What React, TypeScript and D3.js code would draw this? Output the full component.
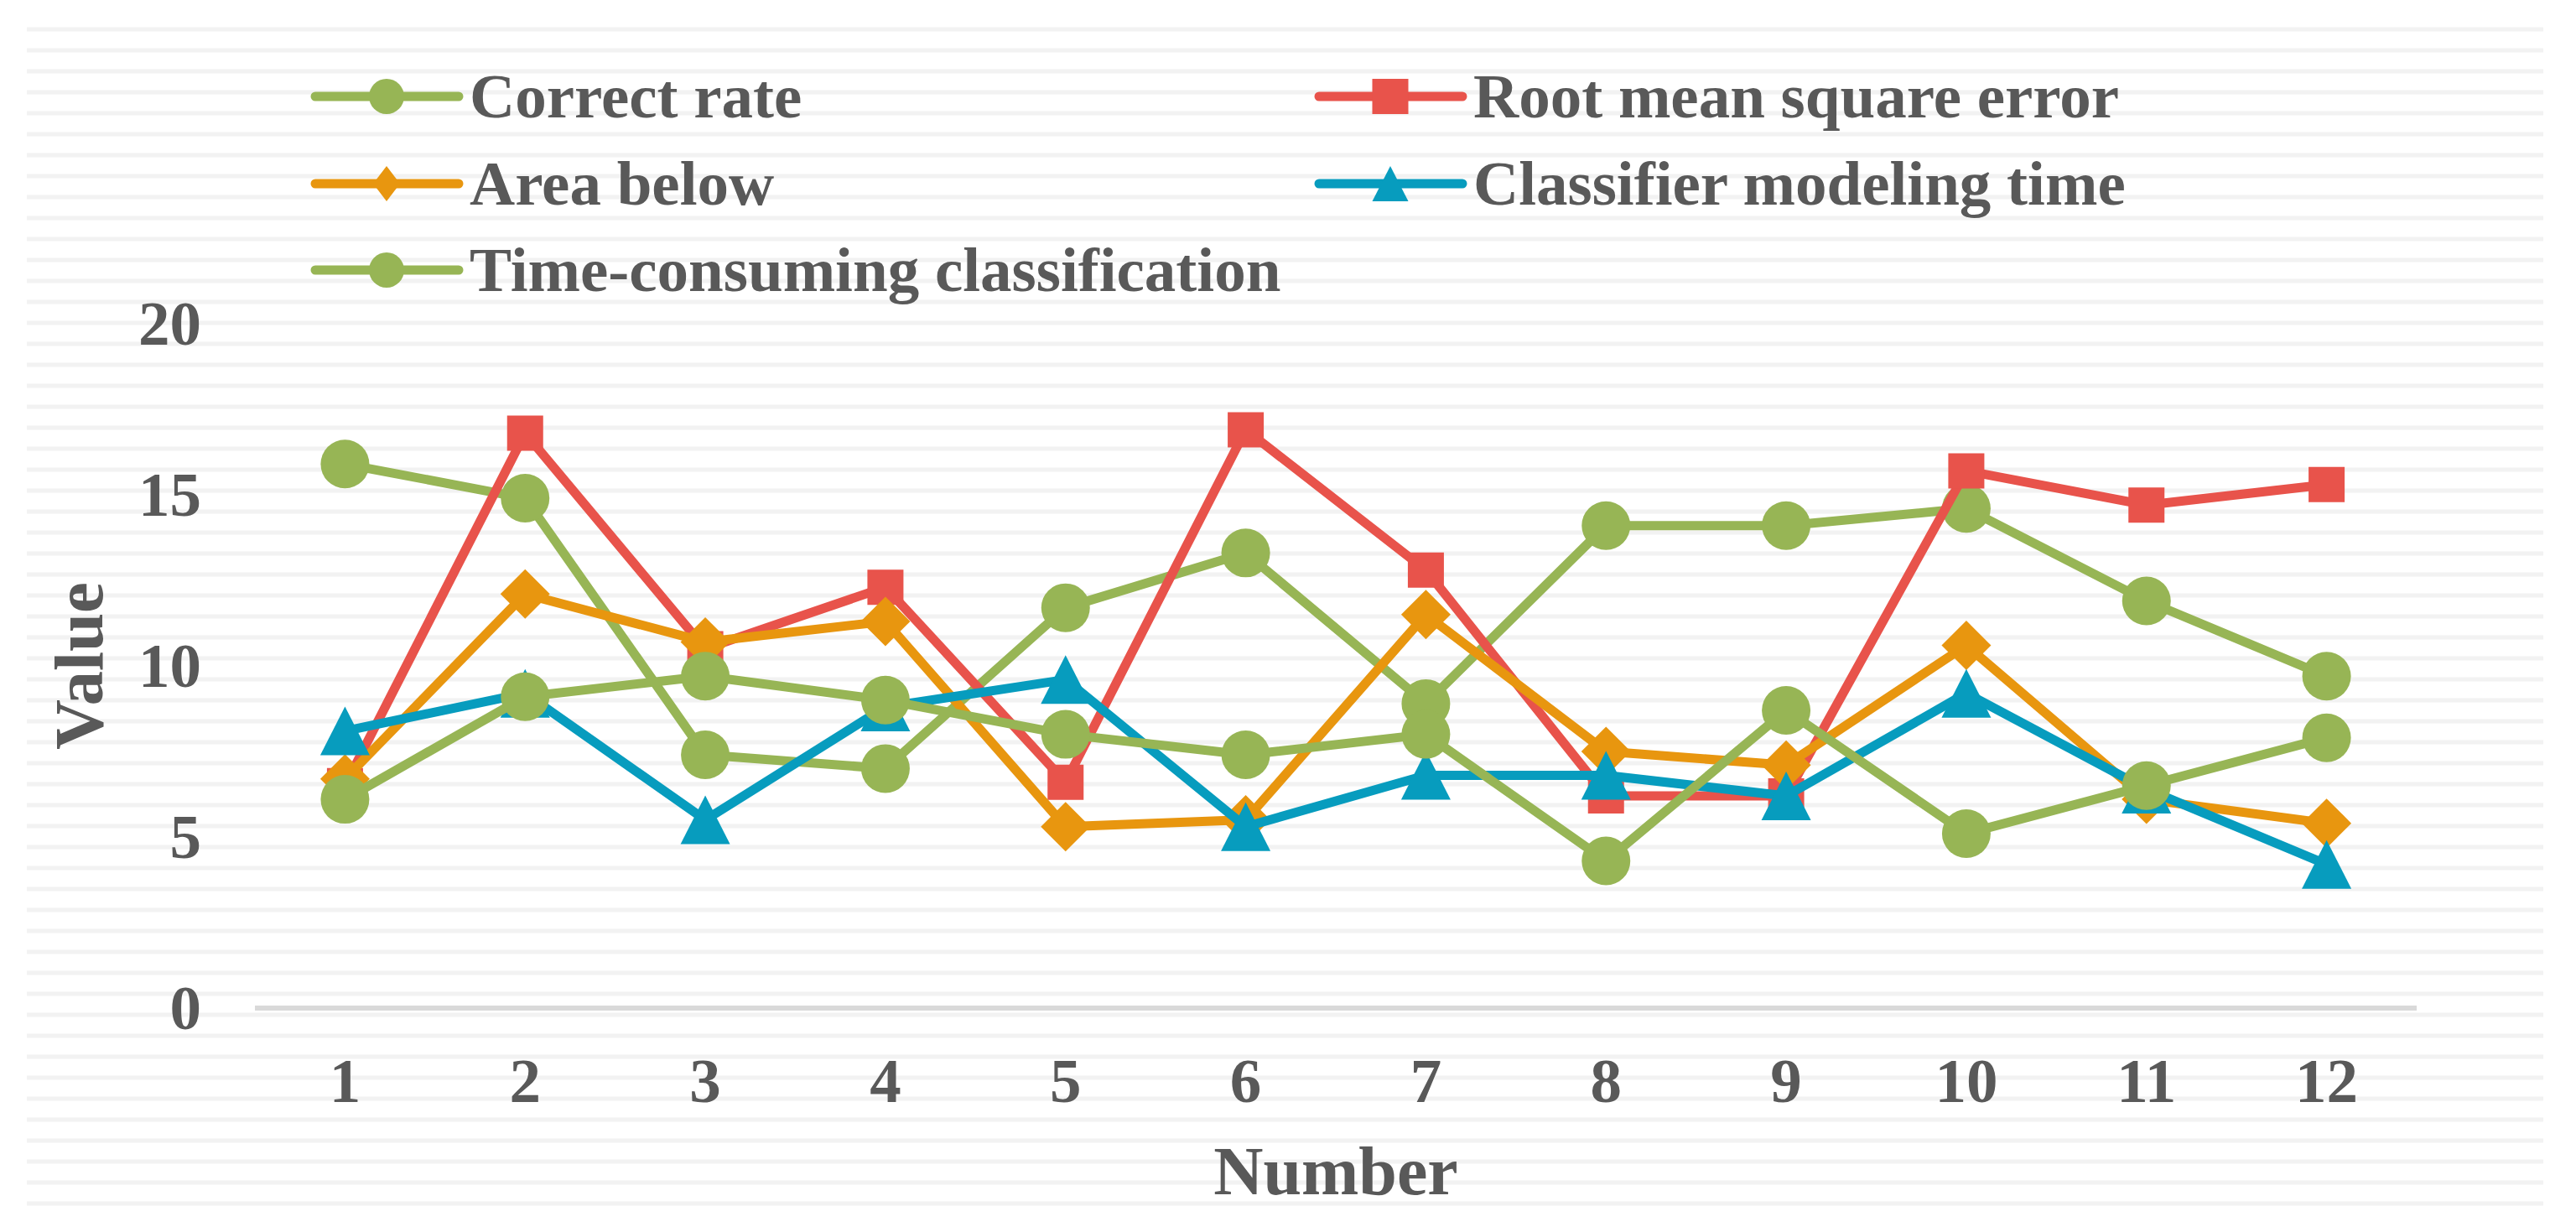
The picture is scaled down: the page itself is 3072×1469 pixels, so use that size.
import React from 'react';
import * as d3 from 'd3';

const categories = [1, 2, 3, 4, 5, 6, 7, 8, 9, 10, 11, 12];
const correctRate = [15.9, 14.9, 7.4, 7.0, 11.7, 13.3, 8.9, 14.1, 14.1, 14.6, 11.9, 9.7];
const rootMeanSquareError = [6.5, 16.8, 10.5, 12.3, 6.6, 16.9, 12.8, 6.2, 6.2, 15.7, 14.7, 15.3];
const areaBelow = [6.7, 12.1, 10.7, 11.3, 5.3, 5.5, 11.5, 7.5, 7.1, 10.6, 6.1, 5.4];
const classifierModelingTime = [8.1, 9.2, 5.5, 8.8, 9.6, 5.3, 6.8, 6.8, 6.2, 9.2, 6.4, 4.2];
const timeConsumingClassification = [6.1, 9.1, 9.7, 9.0, 8.0, 7.4, 8.0, 4.3, 8.7, 5.1, 6.5, 7.9];
const yTicks = [0, 5, 10, 15, 20];

const seriesNames = [
  'Correct rate',
  'Root mean square error',
  'Area below',
  'Classifier modeling time',
  'Time-consuming classification',
];
const seriesValues = [correctRate, rootMeanSquareError, areaBelow, classifierModelingTime, timeConsumingClassification];
const seriesColors = ['#97B555', '#E8534B', '#E8960F', '#079CBE', '#97B555'];
const seriesMarkers = ['circle', 'square', 'diamond', 'triangle', 'circle'];

const W = 3072;
const H = 1469;
const FONT = "'Liberation Serif', 'Times New Roman', serif";
const TEXT = '#595959';

function markerPath(kind: string, cx: number, cy: number, legend: boolean): string {
  if (kind === 'circle') {
    const r = legend ? 21 : 29;
    return `M${cx - r},${cy}a${r},${r} 0 1,0 ${2 * r},0a${r},${r} 0 1,0 ${-2 * r},0Z`;
  }
  if (kind === 'square') {
    const hw = 21.5;
    const hh = 21;
    return `M${cx - hw},${cy - hh}H${cx + hw}V${cy + hh}H${cx - hw}Z`;
  }
  if (kind === 'diamond') {
    const hw = legend ? 16 : 29.5;
    const hh = legend ? 21 : 29.5;
    return `M${cx},${cy - hh}L${cx + hw},${cy}L${cx},${cy + hh}L${cx - hw},${cy}Z`;
  }
  const hw = legend ? 21.5 : 29.5;
  const hh = legend ? 21 : 29;
  return `M${cx},${cy - hh}L${cx + hw},${cy + hh}L${cx - hw},${cy + hh}Z`;
}

export default function App() {
  const x = d3.scaleBand<number>().domain(categories).range([304, 2882]).padding(0);
  const cx = (c: number) => (x(c) as number) + x.bandwidth() / 2;
  const y = d3.scaleLinear().domain([0, 20]).range([1202, 386]);

  const stripes = d3.range(0, 57).map((k) => 35 + 25 * k);

  const line = d3
    .line<number>()
    .x((_, i) => cx(categories[i]))
    .y((v) => y(v));

  const legendCols = [376, 1573];
  const legendRows = [115, 219, 322];

  return (
    <svg
      width={W}
      height={H}
      viewBox={`0 0 ${W} ${H}`}
      style={{ position: 'absolute', left: 0, top: 0, background: '#ffffff' }}
    >
      <rect x={0} y={0} width={W} height={H} fill="#ffffff" />
      {stripes.map((sy) => (
        <rect key={sy} x={32} y={sy - 2.5} width={3001} height={5} fill="#f2f2f2" />
      ))}

      {/* axis line */}
      <line x1={304} x2={2882} y1={y(0)} y2={y(0)} stroke="#d9d9d9" strokeWidth={6} />

      {/* y tick labels */}
      {yTicks.map((t) => (
        <text
          key={t}
          x={240}
          y={y(t) + 25}
          textAnchor="end"
          fontFamily={FONT}
          fontWeight="bold"
          fontSize={75}
          fill={TEXT}
        >
          {t}
        </text>
      ))}

      {/* x tick labels */}
      {categories.map((c) => (
        <text
          key={c}
          x={cx(c)}
          y={1314}
          textAnchor="middle"
          fontFamily={FONT}
          fontWeight="bold"
          fontSize={75}
          fill={TEXT}
        >
          {c}
        </text>
      ))}

      {/* axis titles */}
      <text
        x={(304 + 2882) / 2}
        y={1424}
        textAnchor="middle"
        fontFamily={FONT}
        fontWeight="bold"
        fontSize={82}
        fill={TEXT}
      >
        Number
      </text>
      <text
        transform={`translate(122, ${(y(0) + y(20)) / 2}) rotate(-90)`}
        textAnchor="middle"
        fontFamily={FONT}
        fontWeight="bold"
        fontSize={83}
        fill={TEXT}
      >
        Value
      </text>

      {/* series */}
      {seriesValues.map((vals, si) => (
        <g key={seriesNames[si]}>
          <path
            d={line(vals) as string}
            fill="none"
            stroke={seriesColors[si]}
            strokeWidth={11}
            strokeLinejoin="round"
            strokeLinecap="round"
          />
          {vals.map((v, i) => (
            <path key={i} d={markerPath(seriesMarkers[si], cx(categories[i]), y(v), false)} fill={seriesColors[si]} />
          ))}
        </g>
      ))}

      {/* legend */}
      {seriesNames.map((name, si) => {
        const lx = legendCols[si % 2];
        const ly = legendRows[Math.floor(si / 2)];
        return (
          <g key={name}>
            <line
              x1={lx}
              x2={lx + 171}
              y1={ly}
              y2={ly}
              stroke={seriesColors[si]}
              strokeWidth={11}
              strokeLinecap="round"
            />
            <path d={markerPath(seriesMarkers[si], lx + 85, ly, true)} fill={seriesColors[si]} />
            <text
              x={lx + 184}
              y={ly + 25}
              fontFamily={FONT}
              fontWeight="bold"
              fontSize={75}
              fill={TEXT}
            >
              {name}
            </text>
          </g>
        );
      })}
    </svg>
  );
}
